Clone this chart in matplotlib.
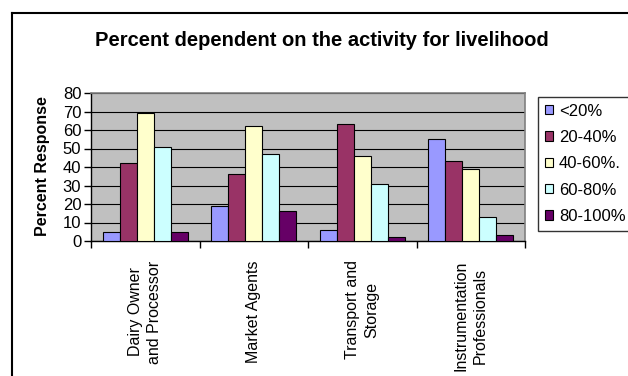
import numpy as np
import matplotlib
matplotlib.use("Agg")
import matplotlib.pyplot as plt
from matplotlib.patches import Patch
from matplotlib.lines import Line2D

plt.rcParams['font.family'] = ['Liberation Sans', 'DejaVu Sans']

categories = ["Dairy Owner\nand Processor", "Market Agents",
              "Transport and\nStorage", "Instrumentation\nProfessionals"]
series_names = ["<20%", "20-40%", "40-60%.", "60-80%", "80-100%"]
colors = ["#9999FF", "#993366", "#FFFFCC", "#CCFFFF", "#660066"]

lt20 = [5, 19, 6, 55]
p20_40 = [42, 36, 63, 43]
p40_60 = [69, 62, 46, 39]
p60_80 = [51, 47, 31, 13]
p80_100 = [5, 16, 2, 3]
values = [lt20, p20_40, p40_60, p60_80, p80_100]

W, H = 628, 376
fig = plt.figure(figsize=(W / 100, H / 100), dpi=100)
ax = fig.add_axes([91 / W, 1 - 241 / H, (525 - 91) / W, (241 - 93) / H])
ax.set_facecolor("#C0C0C0")

x = np.arange(len(categories))
bw = 0.157
for i, (vals, c) in enumerate(zip(values, colors)):
    ax.bar(x + (i - 2) * bw, vals, bw, color=c, edgecolor="black",
           linewidth=0.8, zorder=3)

ax.set_xlim(-0.5, len(categories) - 0.5)
ax.set_ylim(0, 80)
ax.set_yticks(range(0, 81, 10))
ax.yaxis.grid(True, color="black", linewidth=0.8, zorder=0)
ax.set_axisbelow(True)

ax.set_xticks(np.arange(-0.5, len(categories), 1.0))
ax.set_xticklabels([])
ax.set_xticks(x, minor=True)
ax.set_xticklabels(categories, minor=True, rotation=90, va="top",
                   ha="center", multialignment="center", fontsize=11.5,
                   linespacing=1.35)
ax.tick_params(axis="x", which="minor", length=0, pad=14)
ax.tick_params(axis="x", which="major", length=5, direction="out", width=1)
ax.tick_params(axis="y", length=5, direction="out", width=1, labelsize=12, pad=2)

for s in ["top", "right"]:
    ax.spines[s].set_color("#808080")
    ax.spines[s].set_linewidth(1.2)
for s in ["left", "bottom"]:
    ax.spines[s].set_color("black")
    ax.spines[s].set_linewidth(1)

fig.text(322 / W, 1 - 41 / H, "Percent dependent on the activity for livelihood",
         ha="center", va="center", fontsize=14.5, fontweight="bold")
fig.text(43 / W, 1 - 166 / H, "Percent Response", rotation=90,
         ha="center", va="center", fontsize=11.5, fontweight="bold")

handles = [Patch(facecolor=c, edgecolor="black", linewidth=0.8) for c in colors]
leg = fig.legend(handles, series_names, loc="upper left",
                 bbox_to_anchor=(538 / W, 1 - 97 / H), fontsize=12,
                 frameon=True, fancybox=False, handlelength=0.5,
                 handleheight=0.5, handletextpad=0.35, labelspacing=0.68,
                 borderpad=0.4, borderaxespad=0)
leg.get_frame().set_edgecolor("black")
leg.get_frame().set_linewidth(1)

# outer chart border (right and bottom edges fall outside the picture)
fig.add_artist(Line2D([12 / W, 12 / W], [0, 1 - 13 / H], color="black",
                      linewidth=1.5, transform=fig.transFigure))
fig.add_artist(Line2D([12 / W, 1], [1 - 13 / H, 1 - 13 / H], color="black",
                      linewidth=1.5, transform=fig.transFigure))

fig.savefig("out.png", dpi=100)
